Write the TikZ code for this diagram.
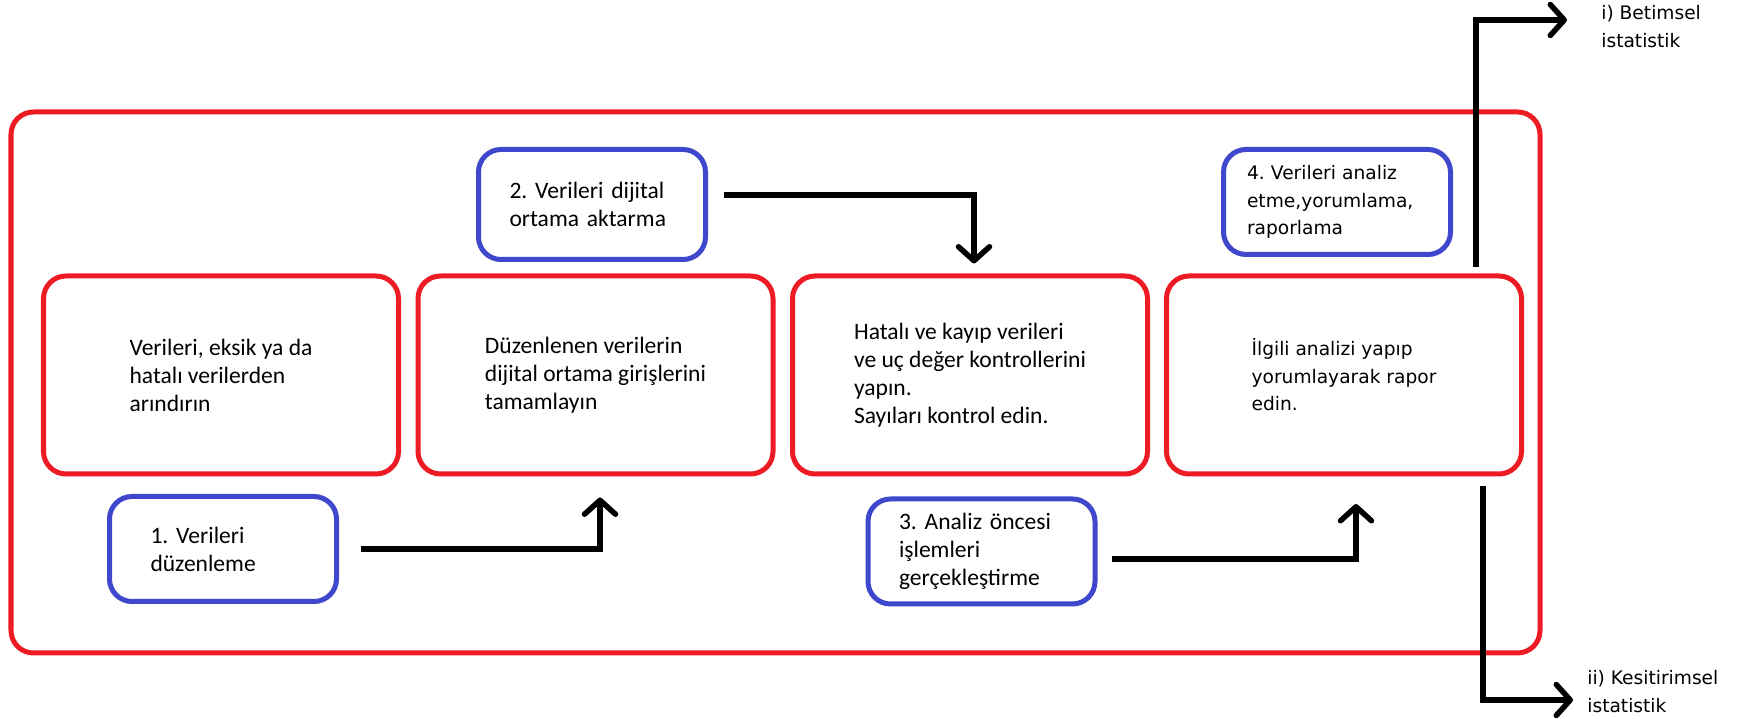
\documentclass[tikz,border=0pt]{standalone}
\usepackage{fontspec}
\setmainfont{Carlito}
\newfontfamily\verdfont{DejaVu Sans}
\usepackage{tikz}
\usetikzlibrary{calc, arrows.meta}
\definecolor{paintred}{RGB}{237,28,36}
\definecolor{paintblue}{RGB}{63,72,204}
\frenchspacing

\begin{document}
\begin{tikzpicture}[
    redbox/.style={draw=paintred, line width=0.1cm, rounded corners=0.45cm, minimum width=7.1cm, minimum height=3.96cm, align=left, font=\fontsize{13.4}{15.9}\selectfont},
    bluebox/.style={draw=paintblue, line width=0.1cm, rounded corners=0.45cm, minimum width=4.54cm, minimum height=2.1cm, align=left, font=\fontsize{13.4}{15.9}\selectfont},
    wide/.style={font=\verdfont\fontsize{10.6}{15.7}\selectfont},
    flow/.style={line width=0.11cm, -{Straight Barb[round, length=0.28cm, width=0.62cm]}}
  ]
      \useasboundingbox (0,0) rectangle (34.86,14.38);
      \fill[white] (0,0) rectangle (34.86,14.38);
      \draw[paintred, line width=0.1cm, rounded corners=0.45cm] (0.22,1.32) rectangle (30.8,12.14);

      \node[redbox] (arin) at (4.42,6.88) {Verileri, eksik ya da\\hatalı verilerden\\arındırın};
      \node[redbox] (giris) at (11.91,6.88) {Düzenlenen verilerin\\dijital ortama girişlerini\\tamamlayın};
      \node[redbox] (kontrol) at (19.40,6.88) {Hatalı ve kayıp verileri\\ve uç değer kontrollerini\\yapın.\\Sayıları kontrol edin.};
      \node[redbox, wide] (rapor) at (26.88,6.88) {İlgili analizi yapıp\\yorumlayarak rapor\\edin.};

      \node[bluebox, text width=2.9cm] (duzen) at (4.46,3.40) {1. Verileri\\düzenleme};
      \node[bluebox, text width=3.3cm, minimum height=2.2cm] (aktar) at (11.84,10.29) {2. Verileri dijital\\ortama aktarma};
      \node[bluebox, text width=3.3cm] (oncesi) at (19.63,3.35) {3. Analiz öncesi\\işlemleri\\gerçekleştirme};
      \node[bluebox, wide, text width=3.6cm] (analiz) at (26.74,10.34) {4. Verileri analiz\\etme,yorumlama,\\raporlama};

      \node[wide, align=left, inner sep=0pt, anchor=west] (betim) at (32.02,13.85) {i) Betimsel\\istatistik};
      \node[wide, align=left, inner sep=0pt, anchor=west] (kesit) at (31.74,0.55) {ii) Kesitirimsel\\istatistik};
      \coordinate (betimucu) at (31.34,13.98);
      \coordinate (kesitucu) at (31.46,0.38);

      \draw[flow] ([xshift=0.44cm]duzen.east) -| ([xshift=0.09cm,yshift=-0.42cm]giris.south);
      \draw[flow] ([xshift=0.32cm,yshift=0.19cm]aktar.east) -| ([xshift=0.08cm,yshift=0.2cm]kontrol.north);
      \draw[flow] ([xshift=0.28cm,yshift=-0.15cm]oncesi.east) -| ([xshift=0.24cm,yshift=-0.55cm]rapor.south);
      \draw[flow] ([xshift=2.64cm,yshift=0.13cm]rapor.north) |- (betimucu);
      \draw[flow] ([xshift=2.78cm,yshift=-0.2cm]rapor.south) |- (kesitucu);
\end{tikzpicture}
\end{document}
